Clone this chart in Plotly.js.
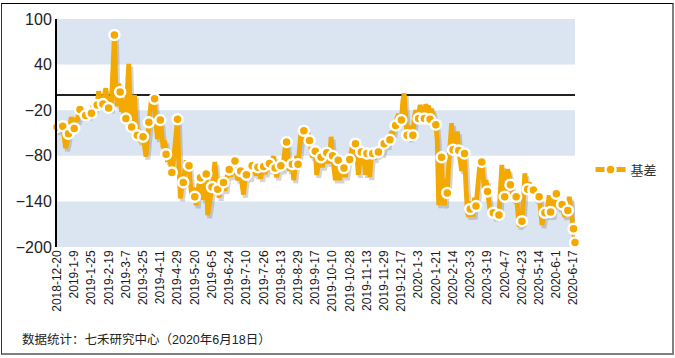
<!DOCTYPE html>
<html><head><meta charset="utf-8">
<script src="https://cdn.plot.ly/plotly-3.0.1.min.js"></script>
<style>
html,body{margin:0;padding:0;background:#fff;}
#wrap{position:relative;width:675px;height:358px;overflow:hidden;}
#chart{width:675px;height:358px;}
#frame{position:absolute;left:1px;top:3px;width:673px;height:352px;box-sizing:border-box;border-top:1px solid #000;border-left:1px solid #333;border-right:2px solid #808080;border-bottom:2px solid #808080;pointer-events:none;}
</style></head><body>
<div id="wrap"><div id="chart"></div><div id="frame"></div></div>
<script>
// ---- data ----
const seriesName = '基差';
const sourceNote = '数据统计：七禾研究中心（2020年6月18日）';
const tickLabels = ['2018-12-20','2019-1-9','2019-1-25','2019-2-19','2019-3-7','2019-3-25','2019-4-11','2019-4-29','2019-5-20','2019-6-5','2019-6-24','2019-7-10','2019-7-26','2019-8-13','2019-8-29','2019-9-17','2019-10-10','2019-10-28','2019-11-13','2019-11-29','2019-12-17','2020-1-3','2020-1-21','2020-2-14','2020-3-3','2020-3-19','2020-4-7','2020-4-23','2020-5-14','2020-6-1','2020-6-17'];
const labelInterval = 12; // trading days between labelled categories
const yTicks = [-200,-140,-80,-20,40,100];
const bandRanges = [[40,100],[-80,-20],[-200,-140]];
const basis = [
-42,-48,-38,-45,-41,-58,-70,-62,-51,-40,-29,-38,
-44,-30,-35,-25,-19,-25,-30,-22,-27,-20,-29,-18,
-24,-14,-20,-8,-13,5,-6,-15,-12,-2,9,-8,
-17,-20,-8,30,79,10,-15,15,4,-22,-5,-28,
-31,5,41,-15,-42,-30,0,-35,-53,-45,-62,-50,
-55,-68,-81,-60,-36,-25,-1,-18,-5,-38,-58,-42,
-33,-52,-70,-60,-78,-88,-75,-95,-102,-90,-72,-60,
-32,-95,-136,-120,-115,-100,-86,-104,-93,-118,-132,-122,
-134,-145,-126,-115,-109,-122,-138,-112,-104,-158,-142,-128,
-121,-108,-88,-110,-124,-135,-118,-108,-115,-126,-110,-104,
-98,-108,-92,-100,-87,-104,-112,-96,-100,-118,-131,-112,
-105,-98,-110,-100,-93,-104,-98,-106,-95,-102,-110,-98,
-94,-104,-96,-88,-90,-100,-84,-81,-96,-108,-100,-95,
-93,-100,-82,-70,-62,-88,-100,-95,-91,-112,-100,-80,
-91,-70,-50,-58,-47,-62,-55,-50,-60,-70,-82,-78,
-74,-105,-92,-80,-82,-95,-85,-72,-76,-90,-82,-55,
-80,-98,-112,-95,-86,-112,-102,-88,-96,-108,-95,-80,
-85,-75,-66,-70,-64,-80,-105,-88,-75,-92,-82,-105,
-77,-90,-108,-82,-77,-85,-72,-80,-75,-70,-78,-66,
-64,-58,-68,-55,-59,-48,-52,-38,-40,-30,-25,-35,
-33,-8,2,-30,-53,-45,-58,-40,-53,-30,-20,-28,
-31,-13,-20,-16,-31,-12,-18,-14,-32,-18,-28,-35,
-39,-60,-145,-120,-82,-135,-145,-110,-129,-90,-55,-37,
-72,-50,-62,-48,-73,-85,-100,-90,-77,-120,-155,-160,
-150,-140,-160,-135,-146,-120,-100,-85,-88,-105,-125,-112,
-127,-140,-155,-148,-155,-162,-150,-160,-158,-110,-92,-120,
-134,-110,-98,-105,-118,-128,-138,-130,-134,-150,-173,-165,
-166,-140,-103,-118,-124,-115,-128,-120,-125,-132,-138,-132,
-134,-150,-171,-160,-155,-160,-145,-132,-154,-160,-140,-125,
-130,-138,-150,-140,-144,-155,-160,-148,-152,-134,-150,-165,
-176,-194
];
const markerEvery = 4;

// ---- build ----
const n = basis.length;
const xs = basis.map((_, i) => i);
const mIdx = xs.filter(i => i % markerEvery === 0 || i === n - 1);
const mx = mIdx.map(i => xs[i]);
const my = mIdx.map(i => basis[i]);
const tickVals = tickLabels.map((_, k) => k * labelInterval);

const ORANGE = '#f3a900';
const plotW = 528, plotH = 228;
const xRange = [0, n - 1];
const yRange = [-200, 100];
const sx = 2 * (xRange[1] - xRange[0]) / plotW;   // shadow offset (2px right)
const sy = 3 * (yRange[1] - yRange[0]) / plotH;   // shadow offset (3px down)
const MARKER = {color: ORANGE, size: 10, line: {color: '#ffffff', width: 2.5}};

const traces = [
  { // drop shadow of the line
    x: xs, y: basis, xaxis: 'x', yaxis: 'y', type: 'scatter', mode: 'lines',
    line: {color: 'rgba(120,120,120,0.32)', width: 5}, showlegend: false, hoverinfo: 'skip'
  },
  {
    x: xs, y: basis, xaxis: 'x2', yaxis: 'y2', type: 'scatter', mode: 'lines',
    line: {color: ORANGE, width: 4.8}, showlegend: false
  },
  {
    x: mx, y: my, xaxis: 'x2', yaxis: 'y2', type: 'scatter', mode: 'markers',
    marker: MARKER, cliponaxis: false, showlegend: false
  },
  {
    x: [null], y: [null], xaxis: 'x2', yaxis: 'y2', type: 'scatter', mode: 'lines+markers',
    name: seriesName, line: {color: ORANGE, width: 5}, marker: MARKER
  }
];

const layout = {
  width: 675, height: 358,
  margin: {l: 57, r: 90, t: 19, b: 111, pad: 0},
  paper_bgcolor: '#ffffff', plot_bgcolor: 'rgba(0,0,0,0)',
  font: {family: 'Liberation Sans, Arial, "Noto Sans CJK SC", sans-serif', color: '#222', size: 12},
  showlegend: true,
  xaxis: {range: [xRange[0] - sx, xRange[1] - sx], visible: false, fixedrange: true},
  yaxis: {range: [yRange[0] + sy, yRange[1] + sy], visible: false, fixedrange: true},
  xaxis2: {
    overlaying: 'x', anchor: 'y2', range: xRange,
    tickmode: 'array', tickvals: tickVals, ticktext: tickLabels, tickangle: -90,
    tickfont: {size: 12, color: '#1a1a1a'}, ticks: '', showline: false, showgrid: false, zeroline: false
  },
  yaxis2: {
    overlaying: 'y', anchor: 'x2', range: yRange,
    tickmode: 'array', tickvals: yTicks, tickfont: {size: 16, color: '#222'},
    ticks: '', showline: true, linecolor: '#000', linewidth: 2, showgrid: false,
    zeroline: true, zerolinecolor: '#222', zerolinewidth: 1.5
  },
  shapes: bandRanges.map(b => ({
    type: 'rect', xref: 'paper', yref: 'y2', x0: 0, x1: 1, y0: b[0], y1: b[1],
    fillcolor: '#dae5f1', line: {width: 0}, layer: 'below'
  })),
  legend: {
    x: 1.03, xanchor: 'left', y: 0.34, yanchor: 'middle',
    font: {size: 13, family: '"Noto Sans CJK SC", sans-serif', color: '#333'},
    bgcolor: 'rgba(0,0,0,0)'
  },
  annotations: [{
    xref: 'paper', yref: 'paper', x: -0.072, y: -0.404, xanchor: 'left', yanchor: 'middle',
    showarrow: false, text: sourceNote,
    font: {size: 12.5, family: 'Liberation Sans, Arial, "Noto Sans CJK SC", sans-serif', color: '#222'}
  }]
};

Plotly.newPlot('chart', traces, layout, {staticPlot: true, displayModeBar: false});
</script>
</body></html>
